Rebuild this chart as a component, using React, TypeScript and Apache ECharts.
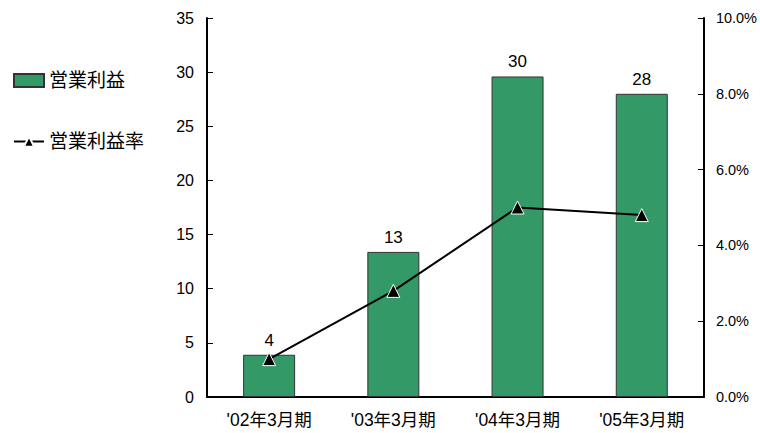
import React, { useEffect, useRef } from "react";
import * as echarts from "echarts";

const categories = ["'02年3月期", "'03年3月期", "'04年3月期", "'05年3月期"];
const profit = [3.9, 13.4, 29.6, 28.0];
const profitRate = [1.0, 2.8, 5.0, 4.8];

const FONT = "'Liberation Sans', Arial, 'Noto Sans CJK JP', sans-serif";

export default function App() {
  const ref = useRef<HTMLDivElement>(null);
  useEffect(() => {
    if (!ref.current) return;
    const chart = echarts.init(ref.current, undefined, { renderer: "svg" });
    chart.setOption({
      animation: false,
      backgroundColor: "#ffffff",
      textStyle: { fontFamily: FONT },
      grid: { left: 207, right: 56, top: 18, bottom: 36 },
      legend: {
        orient: "vertical",
        left: 13,
        top: 71,
        padding: 0,
        itemWidth: 30,
        itemHeight: 13,
        itemGap: 42,
        textStyle: { fontSize: 19, color: "#000", fontFamily: FONT },
        data: [
          { name: "営業利益", icon: "rect" },
          { name: "営業利益率" },
        ],
      },
      xAxis: {
        type: "category",
        data: categories,
        axisLine: { lineStyle: { color: "#000", width: 2 } },
        axisTick: { show: false },
        axisLabel: { color: "#000", fontSize: 17.5, margin: 14, fontFamily: FONT },
      },
      yAxis: [
        {
          type: "value",
          min: 0,
          max: 35,
          interval: 5,
          axisLine: { show: true, lineStyle: { color: "#000", width: 2 } },
          axisTick: { show: true, inside: true, length: 6, lineStyle: { color: "#000" } },
          splitLine: { show: false },
          axisLabel: { color: "#000", fontSize: 16, margin: 13, fontFamily: FONT },
        },
        {
          type: "value",
          min: 0,
          max: 10,
          interval: 2,
          position: "right",
          axisLine: { show: true, lineStyle: { color: "#000", width: 2 } },
          axisTick: { show: true, inside: true, length: 6, lineStyle: { color: "#000" } },
          splitLine: { show: false },
          axisLabel: {
            color: "#000",
            fontSize: 14.5,
            margin: 12,
            fontFamily: FONT,
            formatter: (v: number) => v.toFixed(1) + "%",
          },
        },
      ],
      series: [
        {
          name: "営業利益",
          type: "bar",
          data: profit,
          barWidth: 52,
          itemStyle: { color: "#339966", borderColor: "#333", borderWidth: 1 },
          label: {
            show: true,
            position: "top",
            color: "#000",
            fontSize: 17,
            distance: 6,
            fontFamily: FONT,
            formatter: (p: any) => String(Math.round(p.value)),
          },
        },
        {
          name: "営業利益率",
          type: "line",
          yAxisIndex: 1,
          data: profitRate,
          symbol: "triangle",
          symbolSize: 13,
          lineStyle: { color: "#000", width: 2 },
          itemStyle: { color: "#000", borderColor: "#fff", borderWidth: 1 },
        },
      ],
    });
    return () => chart.dispose();
  }, []);
  return <div ref={ref} style={{ width: 760, height: 433, position: "absolute", left: 0, top: 0 }} />;
}
